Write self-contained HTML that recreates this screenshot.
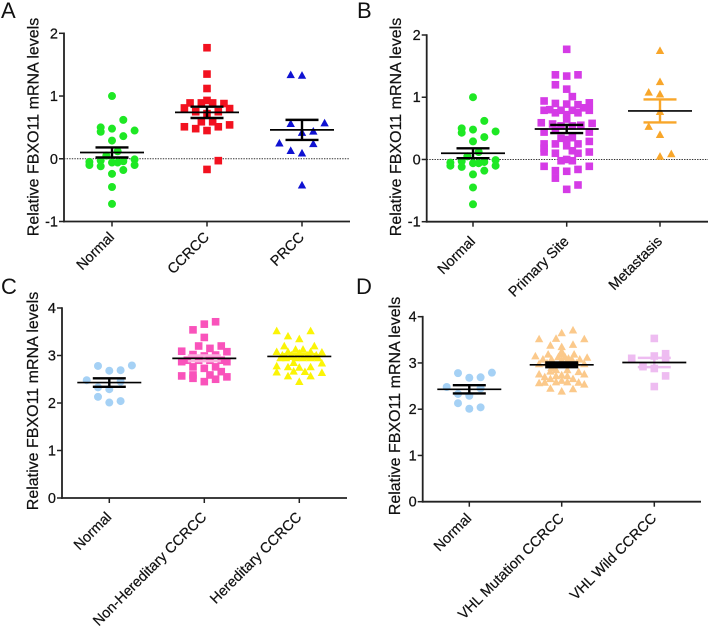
<!DOCTYPE html>
<html>
<head>
<meta charset="utf-8">
<title>FBXO11 mRNA levels</title>
<style>
html,body{margin:0;padding:0;background:#fff;width:709px;height:631px;overflow:hidden}
svg{display:block;font-family:"Liberation Sans",Arial,sans-serif;fill:#111;filter:blur(.3px)}
text{stroke:#111;stroke-width:.22px}
</style>
</head>
<body>
<svg id="figure" width="709" height="631" viewBox="0 0 709 631" xmlns="http://www.w3.org/2000/svg">
<rect width="709" height="631" fill="#fff"/>
<text x="1" y="18" font-size="22" style="stroke-width:0">A</text>
<text x="357" y="18" font-size="22" style="stroke-width:0">B</text>
<text x="1" y="294" font-size="22" style="stroke-width:0">C</text>
<text x="356" y="294" font-size="22" style="stroke-width:0">D</text>
</svg>
<script>
// ---- data ----
const yTicksAB = [-1, 0, 1, 2];
const yTicksCD = [0, 1, 2, 3, 4];

const panelACategories = ['Normal', 'CCRCC', 'PRCC'];
const panelBCategories = ['Normal', 'Primary Site', 'Metastasis'];
const panelCCategories = ['Normal', 'Non-Hereditary CCRCC', 'Hereditary CCRCC'];
const panelDCategories = ['Normal', 'VHL Mutation CCRCC', 'VHL Wild CCRCC'];

const normalValues = [1.0, .62, .50, .43, .48, .45, .36, .29, -.05, -.10, -.12, -.03, .05, .12, -.06, -.06, -.04, -.01, -.10, -.18, -.24, -.45, -.72];
const normalSlots  = [0, 1, -1, -1, 0, 2, 1, 0, -2, -2, -1, -1, -.5, .5, 0, .5, 1, 2, 2, 1, 0, 0, 0];

const ccrccValues = [1.77, 1.35, 1.12, .89, .81, .89, .93, .89, .88, .80, .75, .75, .72, .59, .59, .51, .48, .45, .51, .54, -.03, -.17];
const ccrccSlots  = [0, 0, 0, -1.5, -2, -.5, 0, .5, 1.5, 2, -1, 1, 0, -.5, .5, -2, -1, 0, 1, 2, 1, 0];

const prccValues = [1.34, 1.33, .56, .57, .42, .44, .25, .24, .13, .09, -.42];
const prccSlots  = [-1, 0, -1, 2, 0, 1, -2, 1, -1, 0, 0];

const primaryValues = [1.77, 1.36, 1.34, 1.36, 1.2, 1.13, 1.01, .94, .9, .89, .88, .91, .79, .8, .75, .79, .72, .79, .75, .83, .79, .65, .59, .57, .55, .58, .54, .54, .44, .47, .44, .34, .35, .25, .32, .22, .25, .29, .25, .18, .12, .14, .10, .10, .12, -.02, -.02, 0, -.11, -.11, -.18, -.19, -.16, -.30, -.41, -.48];
const primarySlots  = [0, -1, 0, 1, -1, 0, .5, -2, -1, 0, 1, 2, -2, -1.5, -1, -.5, 0, .5, 1, 1.5, 2, 0, -2.25, -1.25, 1.25, 2.25, -.5, .5, -2, -1, 2, -.5, .5, -1, 0, 0, 1, 2, -2, -2, -2, .5, -1, 1, 2, -.5, .5, 0, -2, 2, -1, 0, 1, -1, 1, 0];

const metastasisValues = [1.75, 1.25, 1.08, 1.05, .77, .53, .40, .05, .09];
const metastasisSlots  = [0, 0, -1, 0, 0, -1, 0, 0, 1];

const normal2Values = [2.78, 2.79, 2.68, 2.69, 2.48, 2.33, 2.29, 2.45, 2.13, 2.04, 2.01];
const normal2Slots  = [-1, 2, 0, 1, -2, -1, 0, 1, -1, 1, 0];

const nonHereditaryValues = [3.71, 3.66, 3.54, 3.38, 3.2, 3.15, 3.2, 3.09, 3.08, 3.02, 2.99, 3.01, 2.9, 2.9, 2.9, 2.9, 2.87, 2.87, 2.76, 2.76, 2.73, 2.66, 2.59, 2.59, 2.57, 2.55, 2.52, 2.5, 2.45];
const nonHereditarySlots  = [1, 0, -1, 0, -.5, .5, 1.5, -2, 2, -1, 0, 1, -1.5, -.5, .5, 1.5, -2, 2, -1, 1, 0, 1.5, -1, .5, -2, 2, -1, 1, 0];

const hereditaryValues = [3.52, 3.52, 3.41, 3.35, 3.2, 3.2, 3.13, 3.13, 3.08, 3.08, 3.08, 3.07, 3.01, 3.01, 3.05, 3.01, 3.01, 2.95, 2.95, 2.95, 2.95, 2.95, 2.95, 2.85, 2.84, 2.76, 2.75, 2.76, 2.78, 2.67, 2.66, 2.65, 2.64, 2.57, 2.57, 2.45];
const hereditarySlots  = [-2, 1, -1, 0, -1.33, 1.33, -.33, .33, -2, -1, 1, 2, -1.5, -.7, 0, .7, 1.5, -1.67, -1.17, -.33, .33, 1, 1.67, -.5, 2, -1, 0, 1, -2, -.5, .5, -2, 2, -1, 1, 0];

const mutationValues = [3.71, 3.65, 3.52, 3.52, 3.53, 3.38, 3.4, 3.35, 3.15, 3.19, 3.19, 3.12, 3.2, 3.13, 3.13, 3.08, 3.08, 3.08, 3.08, 3.06, 2.98, 2.98, 2.85, 2.85, 2.81, 2.76, 2.76, 2.74, 2.7, 2.72, 2.72, 2.66, 2.66, 2.62, 2.57, 2.59, 2.59, 2.58, 2.58, 2.54, 2.45, 2.44, 2.39, 3.25, 3.1, 3.0, 3.0, 2.9, 2.82];
const mutationSlots  = [1, 0, -2, 2, -.5, -1, 1, 0, -2.33, -1.2, 1.1, 2.25, 0, -.3, .3, -1.66, -.9, .9, 1.6, 0, -2, 2, -.5, .5, 1.5, -2, 2, 0, -1.5, -.5, .5, -1, 1, 0, -2, -.5, .5, -1.5, 1.5, 2, -1, 1, 0, 0, .6, 1.3, -1.3, -.9, -1];

const wildValues = [3.53, 3.1, 3.15, 3.2, 3.1, 2.92, 2.88, 2.72, 2.49];
const wildSlots  = [0, -2, 0, 1, 1, -1, 0, 1, 0];

const panelAMeans = [.10, .74, .46];
const panelASems  = [.08, .09, .16];
const panelBMeans = [.10, .49, .78];
const panelBSems  = [.08, .065, .185];
const panelCMeans = [2.43, 2.94, 2.98];
const panelCSems  = [.09, .06, .05];
const panelDMeans = [2.43, 2.96, 3.01];
const panelDSems  = [.09, .04, .10];

// ---- layout and styling ----
const panels = [
  {id:'a', left:64, right:350, top:33.3, bottom:221.5, dMin:-1, dMax:2, ticks:yTicksAB, zero:true, titleX:38.5, titleY:127, labelDy:16.5, centers:[112,207,302], cats:panelACategories, means:panelAMeans, sems:panelASems,
   groups:[{v:normalValues,s:normalSlots,shape:'circle',color:'#1ee824',err:'#000'},{v:ccrccValues,s:ccrccSlots,shape:'square',color:'#f2111f',err:'#000'},{v:prccValues,s:prccSlots,shape:'triangle',color:'#0f12d2',err:'#000'}]},
  {id:'b', left:426.7, right:708, top:35, bottom:221.7, dMin:-1, dMax:2, ticks:yTicksAB, zero:true, titleX:401, titleY:127, labelDy:20.5, centers:[473,566.7,660], cats:panelBCategories, means:panelBMeans, sems:panelBSems,
   groups:[{v:normalValues,s:normalSlots,shape:'circle',color:'#1ee824',err:'#000'},{v:primaryValues,s:primarySlots,shape:'square',color:'#d53be6',err:'#000'},{v:metastasisValues,s:metastasisSlots,shape:'triangle',color:'#f8a62a',err:'#f8a62a'}]},
  {id:'c', left:62, right:347, top:308, bottom:498, dMin:0, dMax:4, ticks:yTicksCD, zero:false, titleX:38, titleY:401, labelDy:20, centers:[109.3,204.3,299.3], cats:panelCCategories, means:panelCMeans, sems:panelCSems,
   groups:[{v:normal2Values,s:normal2Slots,shape:'circle',color:'#a5d1f5',err:'#000'},{v:nonHereditaryValues,s:nonHereditarySlots,shape:'square',color:'#f953bb',err:'#fbb0de'},{v:hereditaryValues,s:hereditarySlots,shape:'triangle',color:'#fbf406',err:'#fbf406'}]},
  {id:'d', left:422.7, right:701, top:316.7, bottom:501.7, dMin:0, dMax:4, ticks:yTicksCD, zero:false, titleX:400, titleY:406, labelDy:17.5, centers:[469.3,561.7,654.3], cats:panelDCategories, means:panelDMeans, sems:panelDSems,
   groups:[{v:normal2Values,s:normal2Slots,shape:'circle',color:'#a5d1f5',err:'#000'},{v:mutationValues,s:mutationSlots,shape:'triangle',color:'#fbc98b',err:'#000',errWidth:3.4},{v:wildValues,s:wildSlots,shape:'square',color:'#eebcf1',err:'#eebcf1'}]}
];
const slotWidth = 11.3;
const svg = document.getElementById('figure');
const NS = 'http://www.w3.org/2000/svg';

function make(tag, parent, attrs) {
  const el = document.createElementNS(NS, tag);
  for (const k in attrs) el.setAttribute(k, attrs[k]);
  parent.appendChild(el);
  return el;
}
function yScale(p, v) { return p.bottom - (v - p.dMin) / (p.dMax - p.dMin) * (p.bottom - p.top); }
function xScale(p, groupIndex, slot) { return p.centers[groupIndex] + slot * slotWidth; }

function drawMarker(g, shape, x, y, color, name) {
  let el;
  if (shape === 'circle') {
    el = make('circle', g, {cx:x, cy:y, r:4, fill:color});
  } else if (shape === 'square') {
    el = make('rect', g, {x:x-3.8, y:y-3.8, width:7.6, height:7.6, fill:color});
  } else {
    el = make('polygon', g, {points:(x)+','+(y-4.2)+' '+(x+4.2)+','+(y+3.4)+' '+(x-4.2)+','+(y+3.4), fill:color});
  }
  
  
}

panels.forEach(function (p) {
  const g = make('g', svg, {});
  
  

  if (p.zero) {
    const z = make('line', g, {x1:p.left, x2:p.right, y1:yScale(p,0), y2:yScale(p,0), stroke:'#333', 'stroke-width':1, 'stroke-dasharray':'1.4 1.2'});
    
    
  }

  p.groups.forEach(function (grp, gi) {
    const gg = make('g', g, {});
    
    
    grp.v.forEach(function (val, i) {
      drawMarker(gg, grp.shape, xScale(p, gi, grp.s[i]), yScale(p, val), grp.color, 'data-point');
    });
    const cx = p.centers[gi], m = p.means[gi], s = p.sems[gi];
    const up = yScale(p, m + s), lo = yScale(p, m - s), my = yScale(p, m);
    const errAttrs = {stroke:grp.err, 'stroke-width':grp.errWidth || 2.4};
    const e1 = make('line', gg, Object.assign({x1:cx, x2:cx, y1:up, y2:lo}, errAttrs));
    
    
    const e2 = make('line', gg, Object.assign({x1:cx-16.5, x2:cx+16.5, y1:up, y2:up}, errAttrs));
    
    
    const e3 = make('line', gg, Object.assign({x1:cx-16.5, x2:cx+16.5, y1:lo, y2:lo}, errAttrs));
    
    
    const ml = make('line', gg, {x1:cx-32, x2:cx+32, y1:my, y2:my, stroke:'#000', 'stroke-width':1.7});
    
    
  });

  const ya = make('line', g, {x1:p.left, x2:p.left, y1:p.top-.8, y2:p.bottom+.9, stroke:'#222', 'stroke-width':1.8});
  
  
  const xa = make('line', g, {x1:p.left-.9, x2:p.right, y1:p.bottom, y2:p.bottom, stroke:'#222', 'stroke-width':1.8});
  
  

  p.ticks.forEach(function (t) {
    const y = yScale(p, t);
    const tk = make('line', g, {x1:p.left-5, x2:p.left, y1:y, y2:y, stroke:'#222', 'stroke-width':1.5});
    
    
    const lb = make('text', g, {x:p.left-6, y:y+5, 'text-anchor':'end', 'font-size':14.5});
    
    
    lb.textContent = t;
  });

  p.cats.forEach(function (c, i) {
    const x = p.centers[i];
    const tk = make('line', g, {x1:x, x2:x, y1:p.bottom, y2:p.bottom+5, stroke:'#222', 'stroke-width':1.5});
    
    
    const lx = x + 3, ly = p.bottom + p.labelDy;
    const lb = make('text', g, {x:lx, y:ly, 'text-anchor':'end', 'font-size':14.4, transform:'rotate(-45 '+lx+' '+ly+')'});
    
    
    lb.textContent = c;
  });

  const tt = make('text', g, {x:p.titleX, y:p.titleY, 'text-anchor':'middle', 'font-size':16, transform:'rotate(-90 '+p.titleX+' '+p.titleY+')'});
  
  
  tt.textContent = 'Relative FBXO11 mRNA levels';
});
</script>
</body>
</html>
